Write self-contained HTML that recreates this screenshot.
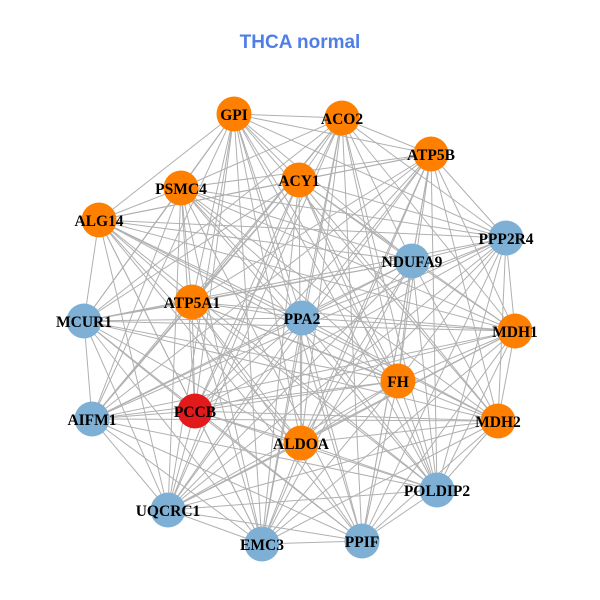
<!DOCTYPE html>
<html><head><meta charset="utf-8"><style>
body{margin:0;background:#fff}
svg{display:block}
</style></head><body>
<svg id="g" width="600" height="600" xmlns="http://www.w3.org/2000/svg">
<rect width="600" height="600" fill="#fff"/>
<text x="300" y="48" text-anchor="middle" font-family="Liberation Sans, sans-serif" font-weight="bold" font-size="19" fill="#4f7fe6">THCA normal</text>
<g id="edges" stroke="#b0b0b0" stroke-width="1"></g>
<g id="nodes"></g>
<g id="labels" font-family="Liberation Serif, serif" font-weight="bold" font-size="15.5" text-anchor="middle" fill="#000"></g>
</svg>
<script>
var N=[["GPI",234,114,"o"],["ACO2",342,118,"o"],["ATP5B",431,154,"o"],["PSMC4",181,188,"o"],["ACY1",299,180,"o"],["ALG14",99,220,"o"],["PPP2R4",506,238,"b"],["NDUFA9",412,261,"b"],["ATP5A1",192,302,"o"],["PPA2",302,318,"b"],["MCUR1",84,321,"b"],["MDH1",515,331,"o"],["FH",398,381,"o"],["PCCB",195,411,"r"],["AIFM1",92,419,"b"],["ALDOA",301,443,"o"],["MDH2",498,421,"o"],["POLDIP2",437,490,"b"],["UQCRC1",168,510,"b"],["EMC3",262,544,"b"],["PPIF",362,541,"b"]];
var C={o:"#ff7f00",b:"#7eb0d5",r:"#e31a1c"};
var ns="http://www.w3.org/2000/svg";
var E=document.getElementById("edges"),Nd=document.getElementById("nodes"),L=document.getElementById("labels");
for(var i=0;i<N.length;i++)for(var j=i+1;j<N.length;j++){
 if((i*7+j*3)%11==0)continue;
 var l=document.createElementNS(ns,"line");
 l.setAttribute("x1",N[i][1]);l.setAttribute("y1",N[i][2]);l.setAttribute("x2",N[j][1]);l.setAttribute("y2",N[j][2]);E.appendChild(l);}
N.forEach(function(n){var c=document.createElementNS(ns,"circle");c.setAttribute("cx",n[1]);c.setAttribute("cy",n[2]);c.setAttribute("r",17.5);c.setAttribute("fill",C[n[3]]);Nd.appendChild(c);
var t=document.createElementNS(ns,"text");t.setAttribute("x",n[1]);t.setAttribute("y",n[2]+6);t.textContent=n[0];L.appendChild(t);});
</script>
</body></html>
